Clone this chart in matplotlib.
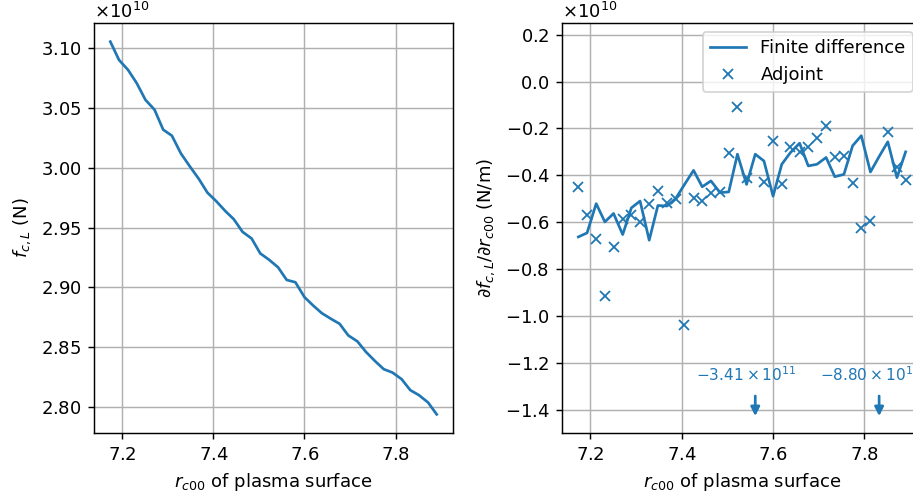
import matplotlib
matplotlib.use("Agg")
import matplotlib.pyplot as plt
import numpy as np

plt.rcParams['axes.formatter.use_mathtext'] = True

# r_c00 sample positions
r_c00 = [7.174, 7.193, 7.213, 7.232, 7.251, 7.271, 7.290, 7.309, 7.329, 7.348,
         7.368, 7.387, 7.406, 7.426, 7.445, 7.464, 7.484, 7.503, 7.522, 7.542,
         7.561, 7.580, 7.600, 7.619, 7.638, 7.658, 7.677, 7.696, 7.716, 7.735,
         7.755, 7.774, 7.793, 7.813, 7.832, 7.851, 7.871, 7.890]

# f_{c,L} in units of 1e10 N
f_cL = [3.1056, 3.0903, 3.0819, 3.0708, 3.0569, 3.0486, 3.0319, 3.0269, 3.0119, 3.0014,
        2.9908, 2.9792, 2.9722, 2.9639, 2.9569, 2.9464, 2.9408, 2.9283, 2.9231, 2.9167,
        2.9061, 2.9042, 2.8917, 2.8847, 2.8783, 2.8736, 2.8694, 2.8597, 2.8547, 2.8458,
        2.8381, 2.8314, 2.8286, 2.8231, 2.8139, 2.8097, 2.8036, 2.7936]

# finite-difference derivative, units of 1e10 N/m
fd_grad = [-0.663, -0.646, -0.521, -0.599, -0.563, -0.653, -0.539, -0.510, -0.677, -0.529,
           -0.531, -0.499, -0.440, -0.379, -0.449, -0.424, -0.474, -0.471, -0.310, -0.439,
           -0.310, -0.339, -0.489, -0.353, -0.303, -0.263, -0.360, -0.353, -0.324, -0.406,
           -0.396, -0.274, -0.231, -0.386, -0.320, -0.257, -0.410, -0.300]

# adjoint derivative, units of 1e10 N/m
adj_grad = [-0.451, -0.568, -0.673, -0.917, -0.704, -0.585, -0.570, -0.600, -0.524, -0.467,
            -0.520, -0.500, -1.040, -0.497, -0.508, -0.475, -0.472, -0.306, -0.108, -0.410,
            -34.1, -0.428, -0.255, -0.437, -0.279, -0.299, -0.279, -0.239, -0.188, -0.324,
            -0.318, -0.435, -0.626, -0.593, -8.80, -0.217, -0.363, -0.422]

SCALE = 1e10
r = np.array(r_c00)
f = np.array(f_cL) * SCALE
fd = np.array(fd_grad) * SCALE
adj = np.array(adj_grad) * SCALE

DPI = 130
fig = plt.figure(figsize=(913 / DPI, 497 / DPI), dpi=DPI)
W, H = 913.0, 497.0
top, bottom = 23, 433
ax1 = fig.add_axes([94 / W, (H - bottom) / H, (453 - 94) / W, (bottom - top) / H])
ax2 = fig.add_axes([562 / W, (H - bottom) / H, (922 - 562) / W, (bottom - top) / H])

ax1.plot(r, f, color='C0')
ax1.set_xlabel(r'$r_{c00}$ of plasma surface')
ax1.set_ylabel(r'$f_{c,L}$ (N)')
ax1.grid(True)

ax2.plot(r, fd, color='C0', label='Finite difference')
ax2.plot(r, adj, 'x', color='C0', label='Adjoint')
ylo, yhi = -1.5e10, 0.25e10
ax2.set_ylim(ylo, yhi)
ax2.set_xlim(ax1.get_xlim())
ax2.set_xlabel(r'$r_{c00}$ of plasma surface')
ax2.set_ylabel(r'$\partial f_{c,L}/\partial r_{c00}$ (N/m)')
ax2.grid(True)
ax2.legend(loc='upper right')

# annotate off-chart adjoint values
for xi, yi in zip(r, adj):
    if yi < ylo:
        mant, ex = f"{yi:.2e}".split('e')
        label = r'$%s\times10^{%d}$' % (mant.replace('-', '-'), int(ex))
        ax2.annotate('', xy=(xi, -1.428e10), xytext=(xi, -1.342e10),
                     arrowprops=dict(arrowstyle='-|>', color='C0', lw=1.5,
                                     shrinkA=0, shrinkB=0, mutation_scale=10))
        ax2.annotate(label, xy=(xi, -1.25e10), xytext=(-5, 0),
                     textcoords='offset points', ha='center', va='center',
                     color='C0', fontsize=8.5, annotation_clip=False)

fig.savefig('out.png', dpi=DPI)
